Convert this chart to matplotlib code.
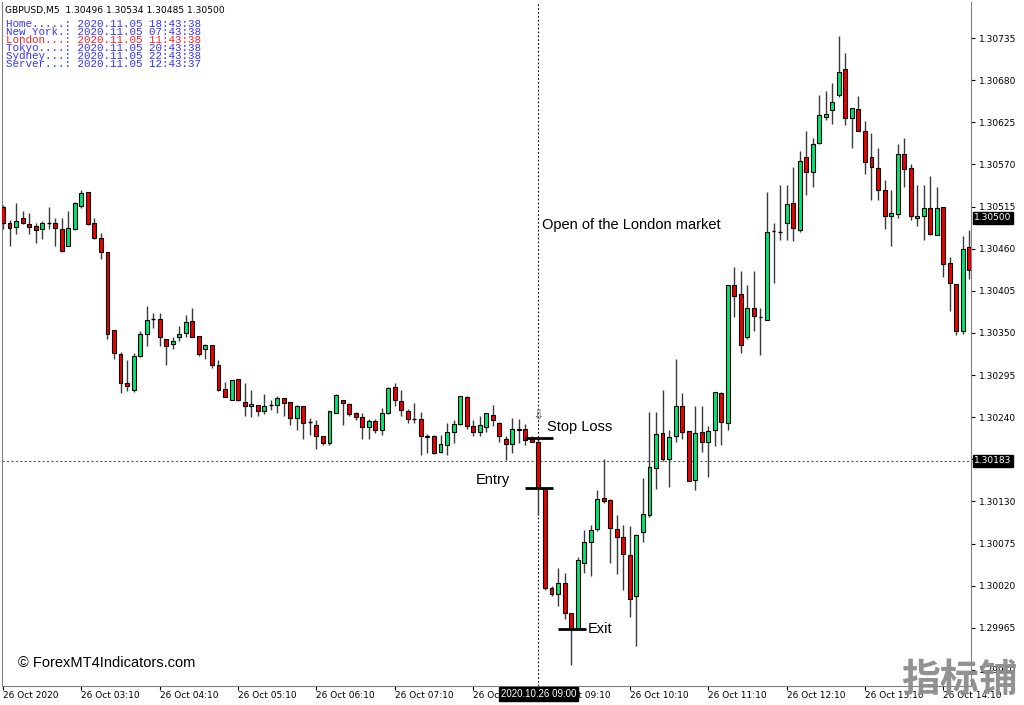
import matplotlib.pyplot as plt
from matplotlib.patches import Rectangle
from matplotlib.transforms import blended_transform_factory

# GBPUSD M5, 26 Oct 2020 from 02:10, one value per bar
opens = [
    1.30514, 1.30494, 1.30488, 1.30500, 1.30492, 1.30489, 1.30485, 1.30494, 1.30494, 1.30485,
    1.30464, 1.30486, 1.30516, 1.30534, 1.30494, 1.30474, 1.30455, 1.30354, 1.30323, 1.30284,
    1.30275, 1.30320, 1.30349, 1.30368, 1.30368, 1.30342, 1.30335, 1.30344, 1.30350, 1.30365,
    1.30346, 1.30329, 1.30334, 1.30308, 1.30277, 1.30263, 1.30290, 1.30260, 1.30254, 1.30256,
    1.30248, 1.30256, 1.30256, 1.30265, 1.30260, 1.30239, 1.30254, 1.30234, 1.30230, 1.30215,
    1.30206, 1.30246, 1.30263, 1.30257, 1.30245, 1.30240, 1.30227, 1.30235, 1.30223, 1.30245,
    1.30279, 1.30261, 1.30248, 1.30237, 1.30237, 1.30214, 1.30215, 1.30195, 1.30204, 1.30220,
    1.30231, 1.30266, 1.30229, 1.30220, 1.30227, 1.30243, 1.30233, 1.30212, 1.30205, 1.30223,
    1.30224, 1.30211, 1.30208, 1.30147, 1.30017, 1.30009, 1.30023, 1.29984, 1.29965, 1.30050,
    1.30077, 1.30094, 1.30134, 1.30132, 1.30094, 1.30084, 1.30060, 1.30007, 1.30090, 1.30112,
    1.30173, 1.30219, 1.30185, 1.30215, 1.30254, 1.30222, 1.30158, 1.30220, 1.30208, 1.30223,
    1.30272, 1.30233, 1.30412, 1.30401, 1.30345, 1.30383, 1.30371, 1.30367, 1.30483, 1.30482,
    1.30494, 1.30520, 1.30484, 1.30579, 1.30560, 1.30598, 1.30632, 1.30641, 1.30661, 1.30694,
    1.30631, 1.30642, 1.30613, 1.30580, 1.30565, 1.30537, 1.30503, 1.30505, 1.30584, 1.30565,
    1.30500, 1.30503, 1.30513, 1.30478, 1.30515, 1.30441, 1.30414, 1.30352, 1.30462,
]
highs = [
    1.30517, 1.30497, 1.30519, 1.30509, 1.30507, 1.30494, 1.30496, 1.30514, 1.30500, 1.30500,
    1.30509, 1.30521, 1.30537, 1.30534, 1.30500, 1.30480, 1.30455, 1.30354, 1.30325, 1.30315,
    1.30324, 1.30352, 1.30385, 1.30376, 1.30376, 1.30342, 1.30345, 1.30359, 1.30374, 1.30382,
    1.30346, 1.30336, 1.30334, 1.30315, 1.30286, 1.30289, 1.30290, 1.30284, 1.30276, 1.30256,
    1.30270, 1.30262, 1.30267, 1.30265, 1.30260, 1.30256, 1.30254, 1.30239, 1.30236, 1.30215,
    1.30248, 1.30270, 1.30263, 1.30258, 1.30247, 1.30245, 1.30237, 1.30237, 1.30252, 1.30279,
    1.30284, 1.30275, 1.30250, 1.30259, 1.30247, 1.30218, 1.30217, 1.30217, 1.30232, 1.30236,
    1.30268, 1.30268, 1.30236, 1.30241, 1.30246, 1.30256, 1.30234, 1.30215, 1.30239, 1.30238,
    1.30231, 1.30215, 1.30212, 1.30148, 1.30019, 1.30043, 1.30036, 1.29984, 1.30057, 1.30093,
    1.30099, 1.30145, 1.30186, 1.30133, 1.30112, 1.30099, 1.30098, 1.30088, 1.30160, 1.30247,
    1.30247, 1.30276, 1.30223, 1.30316, 1.30272, 1.30222, 1.30255, 1.30254, 1.30228, 1.30273,
    1.30273, 1.30413, 1.30436, 1.30431, 1.30413, 1.30431, 1.30383, 1.30534, 1.30493, 1.30543,
    1.30543, 1.30567, 1.30587, 1.30614, 1.30604, 1.30661, 1.30666, 1.30676, 1.30737, 1.30715,
    1.30644, 1.30659, 1.30627, 1.30611, 1.30592, 1.30550, 1.30537, 1.30597, 1.30604, 1.30571,
    1.30543, 1.30543, 1.30555, 1.30540, 1.30515, 1.30449, 1.30414, 1.30476, 1.30484,
]
lows = [
    1.30486, 1.30463, 1.30479, 1.30492, 1.30479, 1.30467, 1.30473, 1.30486, 1.30464, 1.30456,
    1.30463, 1.30484, 1.30513, 1.30491, 1.30472, 1.30447, 1.30342, 1.30316, 1.30272, 1.30274,
    1.30273, 1.30318, 1.30333, 1.30356, 1.30333, 1.30308, 1.30329, 1.30339, 1.30345, 1.30345,
    1.30320, 1.30316, 1.30304, 1.30274, 1.30266, 1.30262, 1.30261, 1.30241, 1.30240, 1.30241,
    1.30244, 1.30249, 1.30245, 1.30241, 1.30230, 1.30223, 1.30212, 1.30217, 1.30199, 1.30204,
    1.30204, 1.30245, 1.30230, 1.30242, 1.30236, 1.30212, 1.30212, 1.30219, 1.30217, 1.30244,
    1.30255, 1.30241, 1.30232, 1.30232, 1.30191, 1.30193, 1.30192, 1.30193, 1.30191, 1.30206,
    1.30230, 1.30225, 1.30215, 1.30215, 1.30221, 1.30228, 1.30208, 1.30184, 1.30193, 1.30206,
    1.30204, 1.30207, 1.30112, 1.30014, 1.30006, 1.29993, 1.29977, 1.29916, 1.29965, 1.30036,
    1.30033, 1.30092, 1.30128, 1.30049, 1.30035, 1.30014, 1.29979, 1.29941, 1.30077, 1.30110,
    1.30146, 1.30183, 1.30149, 1.30208, 1.30212, 1.30156, 1.30145, 1.30195, 1.30162, 1.30202,
    1.30203, 1.30223, 1.30371, 1.30324, 1.30342, 1.30352, 1.30321, 1.30367, 1.30415, 1.30471,
    1.30471, 1.30470, 1.30482, 1.30530, 1.30541, 1.30597, 1.30628, 1.30623, 1.30658, 1.30621,
    1.30592, 1.30613, 1.30558, 1.30524, 1.30524, 1.30485, 1.30463, 1.30500, 1.30540, 1.30498,
    1.30489, 1.30471, 1.30478, 1.30478, 1.30423, 1.30378, 1.30347, 1.30349, 1.30421,
]
closes = [
    1.30493, 1.30487, 1.30496, 1.30494, 1.30488, 1.30484, 1.30494, 1.30494, 1.30487, 1.30457,
    1.30487, 1.30519, 1.30533, 1.30492, 1.30474, 1.30455, 1.30349, 1.30324, 1.30284, 1.30281,
    1.30320, 1.30349, 1.30367, 1.30368, 1.30344, 1.30333, 1.30339, 1.30349, 1.30364, 1.30345,
    1.30322, 1.30334, 1.30308, 1.30276, 1.30266, 1.30289, 1.30262, 1.30255, 1.30257, 1.30248,
    1.30255, 1.30256, 1.30265, 1.30258, 1.30239, 1.30254, 1.30232, 1.30234, 1.30215, 1.30206,
    1.30248, 1.30269, 1.30258, 1.30244, 1.30240, 1.30227, 1.30235, 1.30223, 1.30245, 1.30278,
    1.30262, 1.30249, 1.30237, 1.30237, 1.30215, 1.30215, 1.30193, 1.30205, 1.30220, 1.30231,
    1.30267, 1.30228, 1.30221, 1.30230, 1.30245, 1.30236, 1.30215, 1.30205, 1.30224, 1.30224,
    1.30210, 1.30208, 1.30148, 1.30017, 1.30009, 1.30024, 1.29984, 1.29965, 1.30053, 1.30077,
    1.30093, 1.30133, 1.30131, 1.30095, 1.30084, 1.30061, 1.30003, 1.30086, 1.30114, 1.30175,
    1.30218, 1.30185, 1.30214, 1.30255, 1.30220, 1.30156, 1.30219, 1.30208, 1.30222, 1.30273,
    1.30234, 1.30412, 1.30398, 1.30334, 1.30383, 1.30372, 1.30371, 1.30482, 1.30483, 1.30482,
    1.30518, 1.30487, 1.30575, 1.30560, 1.30597, 1.30634, 1.30636, 1.30652, 1.30691, 1.30630,
    1.30644, 1.30613, 1.30573, 1.30566, 1.30537, 1.30503, 1.30506, 1.30584, 1.30564, 1.30503,
    1.30503, 1.30513, 1.30479, 1.30513, 1.30440, 1.30415, 1.30352, 1.30460, 1.30432,
]

time_labels = ["26 Oct 2020", "26 Oct 03:10", "26 Oct 04:10", "26 Oct 05:10",
               "26 Oct 06:10", "26 Oct 07:10", "26 Oct 08:10", "26 Oct 09:10",
               "26 Oct 10:10", "26 Oct 11:10", "26 Oct 12:10", "26 Oct 13:10",
               "26 Oct 14:10"]
label_bars = [0, 12, 24, 36, 48, 60, 72, 84, 96, 108, 120, 132, 144]

price_ticks = [1.29910, 1.29965, 1.30020, 1.30075, 1.30130, 1.30185, 1.30240, 1.30295,
               1.30350, 1.30405, 1.30460, 1.30515, 1.30570, 1.30625, 1.30680, 1.30735]

clock_names = ["Home.....", "New York.", "London...", "Tokyo....", "Sydney...", "Server..."]
clock_times = ["2020.11.05 18:43:38", "2020.11.05 07:43:38", "2020.11.05 11:43:38",
               "2020.11.05 20:43:38", "2020.11.05 22:43:38", "2020.11.05 12:43:37"]

header = "GBPUSD,M5  1.30496 1.30534 1.30485 1.30500"
bid_price = 1.30500
cross_price = 1.30183
cross_bar = 82
cross_time = "2020.10.26 09:00"

# trade levels
stop_loss = 1.30213
entry = 1.30147
exit_price = 1.29964

BULL = '#00E676'
BEAR = '#EE0000'
WICK = '#3a3a3a'
FRAME = '#808080'
SCALE_FONT = 'DejaVu Sans'


def draw_candles(ax, width=0.6):
    xs = range(len(opens))
    ax.vlines(xs, lows, highs, color=WICK, lw=1, zorder=2)
    for i, (o, c) in enumerate(zip(opens, closes)):
        if o == c:
            ax.hlines(o, i - width / 2, i + width / 2, color='black', lw=1, zorder=3)
            continue
        color = BULL if c > o else BEAR
        ax.add_patch(Rectangle((i - width / 2, min(o, c)), width, abs(c - o),
                               facecolor=color, edgecolor='black', lw=0.8, zorder=3))


fig = plt.figure(figsize=(10.24, 7.05), dpi=100)
ax = fig.add_axes([2 / 1024, 19 / 705, 969 / 1024, 684 / 705])
ax.set_xlim(-0.153, 148.24)
ax.set_ylim(1.298890, 1.307820)

draw_candles(ax)

# crosshair
ax.axvline(cross_bar, color='black', lw=0.8, ls=(0, (1.5, 2)), zorder=1)
ax.axhline(cross_price, color='#555555', lw=0.8, ls=(0, (2, 2)), zorder=1)

# trade levels
ax.hlines(stop_loss, 79.9, 84.2, color='black', lw=2, zorder=4)
ax.hlines(entry, 80.0, 84.3, color='black', lw=2, zorder=4)
ax.hlines(exit_price, 85.0, 89.3, color='black', lw=2, zorder=4)

txt = dict(family='Liberation Sans', fontsize=10.5, color='black', va='center')
ax.text(83.3, 1.30227, "Stop Loss", **txt)
ax.text(72.4, 1.30158, "Entry", **txt)
ax.text(89.5, 1.29964, "Exit", **txt)
ax.text(82.6, 1.30491, "Open of the London market", **txt)
ax.text(82.0, 1.30243, "⇩", fontsize=10, color='#707070', ha='center', va='center',
        family='DejaVu Sans', zorder=5)

# axes look
for side in ['left', 'right', 'bottom']:
    ax.spines[side].set_color(FRAME)
ax.spines['top'].set_visible(False)
ax.yaxis.tick_right()
ax.set_yticks(price_ticks)
# the 1.30185 label sits under the crosshair price box
ax.set_yticklabels(["" if abs(p - cross_price) < 0.0001 else "%.5f" % p
                    for p in price_ticks])
ax.set_xticks(label_bars)
ax.set_xticklabels(time_labels)
for lab in ax.get_xticklabels():
    lab.set_horizontalalignment('left')
ax.tick_params(axis='y', length=3, width=0.8, color='black', pad=3,
               labelsize=6.5, labelfontfamily=SCALE_FONT)
ax.tick_params(axis='x', length=3, width=0.8, color='black', pad=0.8,
               labelsize=6.5, labelfontfamily=SCALE_FONT)

# price boxes on the right scale
ty = blended_transform_factory(ax.transAxes, ax.transData)
box = dict(boxstyle='square,pad=0.18', fc='black', ec='black')
for p in [bid_price, cross_price]:
    ax.text(1.0035, p, "%.5f" % p, transform=ty, color='white', fontsize=6.5,
            family=SCALE_FONT, va='center', ha='left', bbox=box,
            clip_on=False, zorder=6)

# time box of the crosshair
tx = blended_transform_factory(ax.transData, ax.transAxes)
ax.text(cross_bar, -0.0115, cross_time, transform=tx, color='white', fontsize=7,
        family='Liberation Sans', va='center', ha='center', bbox=box,
        clip_on=False, zorder=6)

# top-left header and clocks
fig.text(5 / 1024, 1 - 10 / 705, header, family=SCALE_FONT, fontsize=6.6,
         va='center', ha='left', color='black')
for k, (name, t) in enumerate(zip(clock_names, clock_times)):
    col = '#FF2020' if name.startswith('London') else '#3333FF'
    fig.text(6 / 1024, 1 - (24 + 8 * k) / 705, name + ": " + t,
             family='Liberation Mono', fontsize=7.8, va='center', ha='left', color=col)

fig.text(18 / 1024, 1 - 663 / 705, "© ForexMT4Indicators.com", family='Liberation Sans',
         fontsize=10.5, va='center', ha='left', color='black')

# watermark
fig.text(959 / 1024, 1 - 680 / 705, "指标铺", family=['Noto Sans CJK SC', 'DejaVu Sans'],
         fontsize=28, fontweight='bold', color='#8c8c8c', alpha=0.95,
         va='center', ha='center', zorder=10)

fig.savefig('out.png', dpi=100)
